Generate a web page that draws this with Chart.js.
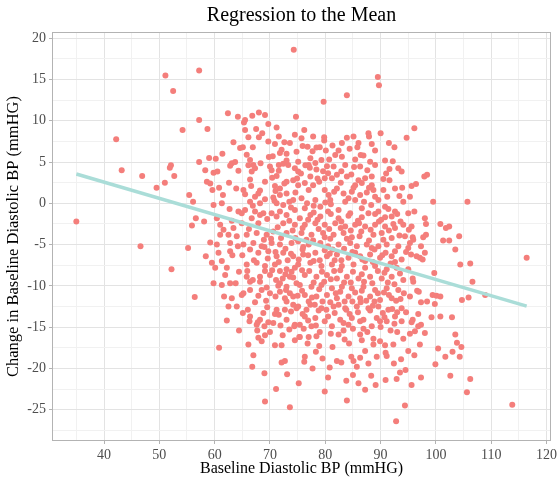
<!DOCTYPE html>
<html>
<head>
<meta charset="utf-8">
<title>Regression to the Mean</title>
<script src="https://cdn.jsdelivr.net/npm/chart.js@4.4.0/dist/chart.umd.min.js"></script>
<style>
    html, body { margin: 0; padding: 0; background: #ffffff; }
    #wrap { width: 557px; height: 487px; }
</style>
</head>
<body>
<div id="wrap"><canvas id="chart" width="557" height="487"></canvas></div>
<script>
// Axis breaks (major ones carry labels, minor ones only a light grid line)
const xMajor = [40, 50, 60, 70, 80, 90, 100, 110, 120];
const xMinor = [35, 45, 55, 65, 75, 85, 95, 105, 115];
const yMajor = [-25, -20, -15, -10, -5, 0, 5, 10, 15, 20];
const yMinor = [-27.5, -22.5, -17.5, -12.5, -7.5, -2.5, 2.5, 7.5, 12.5, 17.5];

// Fitted regression line (ends of the fit)
const fitBaseline = [35, 116.4];
const fitChange = [3.55, -12.45];

// Patients: [baseline diastolic BP, change in diastolic BP]
const bpPairs = [
    [35,-2.2],[42.2,7.75],[43.2,4.0],[46.9,3.3],[46.6,-5.2],[49.5,1.9],[51.0,2.5],[51.1,15.5],[52.5,13.6],
    [52.1,4.6],[51.9,4.3],[52.7,3.3],[52.2,-8.0],[54.2,8.9],[57.2,16.1],[57.2,10.1],[74.3,18.6],
    [62.4,10.9],[64.2,10.5],[65.5,10.1],[65.3,9.8],[66.8,10.6],[68.0,11.0],[69.1,10.7],[74.7,10.5],[58.7,9.0],
    [65.5,8.9],[67.5,9.0],[69.7,9.6],[71.2,9.2],[68.6,8.5],[66.1,8.0],[71.6,8.1],[69.7,7.5],[70.9,7.2],
    [72.6,7.4],[73.6,7.3],[74.8,6.25],[65.1,6.8],[64.6,6.7],[72.1,6.5],[71.8,6.1],[73.0,6.0],[61.4,6.0],
    [59.0,5.5],[60.2,5.4],[65.8,5.9],[66.4,5.25],[68.3,4.85],[67.0,4.65],[57.2,5.0],[63.1,4.85],[63.7,5.0],
    [62.8,4.55],[66.1,4.6],[67.3,4.25],[70.0,4.45],[70.3,4.0],[71.6,4.65],[73.3,4.65],[74.5,4.25],[58.3,4.0],
    [59.8,3.7],[60.5,3.85],[64.3,3.95],[66.7,3.85],[71.6,3.95],[75.1,3.85],[66.4,2.9],[71.2,3.3],[69.1,2.6],
    [58.6,2.6],[59.2,2.4],[73.0,2.6],[74.2,2.8],[70.9,2.1],[71.8,1.8],[59.6,1.6],[60.8,1.9],[65.2,1.6],
    [66.6,2.1],[68.2,1.55],[55.4,1.0],[61.5,1.0],[65.5,1.1],[67.3,0.8],[69.1,0.5],[70.6,0.7],[71.8,1.0],
    [73.0,1.2],[56.1,0.2],[59.8,-0.2],[61.3,0.0],[66.4,0.2],[68.2,0.0],[71.2,0.0],[72.4,-0.2],[74.2,0.4],
    [62.7,-0.7],[64.3,-1.0],[65.5,-0.8],[67.3,-1.0],[68.8,-1.2],[70.3,-1.2],[71.8,-1.0],[73.0,-1.4],[74.5,-0.8],
    [56.6,-1.8],[60.4,-1.8],
    [55.9,-2.7],[58.1,-2.2],[55.2,-5.4],[61.0,-2.6],[61.6,-3.2],[63.4,-3.0],[64.9,-2.4],[64.9,-1.2],[66.7,-1.8],
    [68.2,-1.4],[67.9,-2.4],[71.2,-1.6],[72.4,-2.4],[74.5,-2.6],[61.0,-3.8],[62.5,-3.8],[64.0,-4.0],[65.8,-3.8],
    [67.6,-3.6],[69.4,-3.8],[70.6,-3.4],[73.0,-3.6],[59.2,-4.75],[60.4,-5.0],[62.8,-4.8],[65.2,-5.0],[67.0,-4.8],
    [68.5,-5.2],[70.3,-4.8],[71.8,-5.0],[73.9,-4.8],[75.1,-4.6],[62.8,-5.8],[60.7,-6.0],[58.4,-6.4],[66.4,-5.6],
    [67.9,-6.0],[69.7,-5.8],[71.2,-6.4],[72.4,-6.0],[74.2,-6.4],[59.5,-7.2],[61.3,-7.0],[60.1,-7.8],[62.2,-7.8],
    [65.8,-7.4],[67.6,-7.2],[69.1,-7.6],[70.9,-7.4],[71.8,-8.2],[73.0,-8.0],[74.5,-7.8],[61.9,-8.7],[65.8,-8.9],
    [68.2,-8.9],[70.0,-8.7],[73.6,-8.9],[59.8,-9.7],[61.3,-9.9],[62.8,-9.7],[66.4,-9.5],[68.2,-9.5],[71.8,-9.7],
    [73.0,-10.1],[74.8,-9.7],[66.4,-10.5],[68.5,-10.5],[70.0,-10.9],[71.8,-10.7],[73.6,-10.9],[56.4,-11.35],[63.1,-11.5],
    [67.9,-11.2],[72.7,-11.5],[74.2,-11.3],[64.0,-12.5],[62.5,-12.5],[71.2,-12.9],[72.7,-12.9],[74.8,-12.7],[66.4,-13.7],
    [68.2,-14.1],[62.2,-14.2],[70.6,-14.5],[73.0,-14.1],[74.5,-14.7],[67.6,-14.7],
    [66.3,-14.3],[67.8,-14.4],[69.7,-14.4],[74.4,-14.9],[67.7,-15.4],[69.1,-16.0],[70.0,-15.6],[67.9,-16.3],[68.5,-16.7],
    [72.3,-16.0],[73.5,-15.3],[74.5,-16.6],[75.3,-16.2],[60.8,-17.5],[66.1,-17.1],[72.1,-17.2],[67.0,-18.4],[66.8,-19.8],
    [72.1,-19.3],[72.7,-19.1],[73.1,-20.7],[69.1,-24.0],[73.6,-24.7],
    [79.7,12.3],[76.2,8.9],[77.8,8.1],[79.8,8.0],[79.8,7.6],[83.9,7.95],[85.1,8.1],[86.0,7.3],[87.8,8.5],
    [87.9,8.1],[90.0,8.5],[94.7,7.95],[83.0,7.3],[75.7,7.9],[74.5,8.3],[75.9,6.95],[76.8,6.85],[78.4,6.75],
    [81.8,5.85],[80.7,5.3],[83.0,5.65],[86.4,5.85],[88.1,5.05],[77.3,5.45],[75.1,5.05],[79.3,5.25],[85.4,5.3],
    [78.2,4.9],[77.0,4.65],[75.6,3.6],[78.4,4.1],[80.3,4.5],[81.5,4.45],[83.6,4.65],[86.3,4.45],[89.0,4.65],
    [91.6,4.15],[93.2,4.25],[93.8,3.85],[80.5,3.65],[79.9,3.05],[82.1,3.45],[81.2,3.05],[83.9,3.25],[87.2,3.05],
    [88.4,3.25],[90.5,2.95],[77.3,3.25],[76.3,2.45],[77.8,2.2],[75.1,2.2],[85.4,2.2],[86.6,2.45],[88.4,2.2],
    [92.6,1.8],[95.6,2.1],[90.5,1.6],[77.0,1.6],[79.9,1.6],[81.6,1.4],[83.3,1.2],[84.8,1.4],[86.3,1.0],
    [87.5,1.3],[89.0,0.8],[75.7,0.6],[78.2,0.4],[80.9,0.4],[83.6,0.2],[85.4,0.4],[94.1,0.2],[95.3,0.8],
    [90.8,-0.4],[92.6,-1.0],[95.0,-1.2],[76.3,-0.6],[79.1,-0.4],[80.5,-1.0],[82.4,-0.8],[84.5,-1.2],[86.6,-0.6],
    [87.8,-1.2],[89.6,-1.0],[77.3,-1.4],[92.0,-1.6],
    [75.4,-1.8],[77.9,-1.1],[79.1,-1.6],[81.0,-1.3],[82.4,-1.8],[84.2,-1.5],[86.6,-1.7],[89.0,-1.3],[90.8,-1.7],
    [93.0,-1.3],[94.1,-2.6],[95.6,-2.8],[76.3,-2.6],[78.2,-2.4],[79.9,-2.6],[81.8,-2.4],[83.6,-2.8],[85.4,-2.6],
    [87.2,-2.8],[89.0,-2.6],[90.8,-2.8],[92.6,-3.0],[75.7,-3.6],[77.5,-3.8],[79.6,-3.6],[81.5,-3.8],[83.3,-3.6],
    [88.7,-3.8],[90.2,-3.6],[92.0,-4.2],[94.4,-4.0],[95.9,-4.4],[76.0,-5.3],[77.0,-5.0],[79.1,-4.8],[80.5,-5.2],
    [82.4,-5.0],[84.5,-4.8],[85.7,-5.2],[87.5,-5.0],[89.6,-5.2],[91.1,-5.0],[93.2,-5.2],[95.0,-5.4],[76.0,-6.2],
    [78.2,-6.0],[80.3,-6.4],[82.1,-6.2],[84.2,-6.6],[86.3,-6.4],[88.1,-6.2],[89.9,-6.6],[92.0,-6.4],[93.8,-6.8],
    [75.1,-7.4],[77.3,-7.2],[79.3,-7.6],[81.2,-7.4],[83.0,-7.6],[85.1,-7.4],[87.2,-7.8],[89.0,-7.6],[91.1,-8.0],
    [92.9,-7.8],[95.0,-8.0],[76.3,-8.7],[78.4,-8.9],[80.3,-8.7],[82.1,-9.1],[83.9,-8.9],[86.0,-9.1],[88.1,-8.9],
    [90.2,-9.1],[92.0,-8.9],[94.1,-9.3],[75.4,-9.9],[77.5,-10.1],[79.3,-9.9],[81.2,-10.3],[83.0,-10.1],[84.8,-10.3],
    [86.9,-10.1],[89.0,-10.5],[91.1,-10.3],[93.2,-10.5],[76.3,-11.1],[78.4,-11.3],[80.3,-11.1],[82.1,-11.5],[84.2,-11.3],
    [86.3,-11.5],[88.1,-11.3],[89.9,-11.7],[92.0,-11.5],[95.3,-11.3],[75.1,-12.5],[77.3,-12.3],[79.3,-12.7],[81.5,-12.5],
    [83.6,-12.7],[85.7,-12.5],[87.8,-12.7],[89.6,-12.5],[91.4,-12.9],[93.8,-12.7],[76.3,-13.7],[78.2,-13.9],[80.5,-13.7],
    [82.7,-14.1],[84.8,-13.9],[86.9,-14.1],[89.3,-13.9],[91.1,-14.3],[92.6,-13.7],[75.4,-14.7],[77.5,-14.9],[81.2,-14.9],
    [84.2,-14.7],[88.4,-14.9],
    [76.9,-14.2],[78.3,-14.8],[79.9,-14.3],[83.3,-14.5],[86.3,-14.3],[89.9,-14.3],[92.5,-14.6],[93.8,-14.3],[95.6,-14.4],
    [75.4,-16.2],[77.0,-16.2],[82.4,-15.9],[83.3,-15.4],[83.5,-16.5],[86.3,-15.9],[86.9,-15.2],[86.6,-16.6],[88.7,-16.4],
    [88.7,-17.1],[89.9,-16.7],[90.8,-17.2],[91.8,-15.4],[90.9,-18.1],[94.1,-16.4],[95.3,-15.8],[96.2,-15.5],[78.9,-17.3],
    [78.3,-18.0],[76.3,-18.6],[76.2,-19.2],[79.5,-18.8],[82.1,-19.1],[82.9,-19.3],[84.7,-18.6],[85.1,-19.1],[86.3,-18.7],
    [85.7,-19.8],[87.8,-19.4],[89.3,-18.6],[91.1,-18.5],[92.4,-19.4],[93.7,-18.9],[94.5,-20.2],[93.5,-20.5],[96.1,-18.4],
    [92.9,-21.3],[90.9,-21.4],[88.3,-20.9],[85.0,-20.8],[86.0,-21.8],[89.1,-22.0],[80.5,-21.1],[79.9,-22.8],[83.9,-23.9],
    [94.4,-24.5],[92.8,-26.4],[95.6,-22.0],
    [96.1,9.1],[97.9,3.25],[98.4,3.45],[96.4,2.35],[99.5,0.2],[105.7,0.2],[96.1,-1.0],[98.0,-1.8],
    [98.2,-2.5],[100.8,-2.5],[101.8,-3.0],[102.4,-2.8],[104.2,-4.0],[101.3,-4.5],[102.4,-4.5],[95.8,-4.1],[97.7,-4.1],
    [98.2,-3.8],[95.3,-4.8],[97.3,-5.2],[103.5,-5.6],[98.0,-6.0],[96.5,-6.4],[97.1,-6.6],[97.6,-6.8],[95.5,-6.2],
    [116.4,-6.6],[104.4,-7.4],[106.2,-7.3],[99.7,-8.45],[95.8,-9.1],[95.9,-9.5],[106.6,-9.5],[96.6,-10.6],[96.9,-10.7],
    [99.4,-11.1],[100.1,-11.2],[100.8,-11.3],[108.9,-11.1],[105.9,-11.4],[104.7,-11.7],[97.3,-12.0],[98.4,-11.9],[99.8,-12.2],
    [96.8,-13.4],[99.2,-13.8],[100.8,-13.7],[102.9,-13.8],[95.8,-14.1],[97.3,-14.7],[96.8,-14.9],
    [103.8,-16.9],[103.0,-18.0],[104.3,-18.6],[106.2,-21.3],[105.6,-22.9],[113.8,-24.4],[102.6,-20.9],[99.9,-19.5],[97.3,-21.1],
    [100.4,-17.6],[98.0,-15.7],[97.1,-17.1],[101.7,-18.6],[104.6,-17.4],[103.5,-15.9],
    [83.9,13.1],[89.5,15.3],[89.7,14.3],
    [66.9,-0.3],[69.5,-1.9],[73.8,-0.5],[76.9,-2.0],[81.0,-0.1],[85.9,-2.1],[88.3,-0.2],[91.4,-0.7],[93.6,-2.2],[70.8,0.3],
    [66.2,-3.1],[68.9,-4.4],[72.0,-4.2],[74.1,-3.3],[76.6,-4.4],[78.8,-3.1],[80.9,-4.3],[82.8,-3.0],[84.8,-4.1],[86.5,-3.4],
    [87.9,-4.5],[89.7,-2.2],[91.5,-3.3],[93.4,-3.9],[95.1,-3.2],
    [65.0,-6.3],[67.1,-6.9],[69.0,-5.3],[71.0,-5.9],[73.2,-6.9],[75.9,-5.6],[77.9,-7.0],[79.9,-5.7],[81.7,-6.9],[83.4,-5.5],
    [85.4,-6.0],[87.2,-7.0],[88.9,-5.6],[90.9,-6.0],[92.6,-7.1],[94.6,-5.9],
    [64.4,-8.3],[66.9,-9.3],[69.1,-8.2],[71.1,-9.3],[72.8,-8.6],[74.2,-9.0],[77.1,-8.2],[79.8,-9.5],[81.6,-8.2],[83.4,-9.6],
    [85.0,-8.3],[87.0,-9.5],[89.5,-8.2],[91.3,-9.6],[93.5,-8.5],
    [65.2,-10.9],[67.3,-12.0],[69.3,-11.8],[71.0,-11.3],[72.9,-10.5],[75.0,-11.2],[77.0,-11.9],[78.9,-10.4],[80.9,-12.0],[82.7,-10.7],
    [84.9,-11.9],[86.6,-10.6],[88.9,-11.9],[90.6,-10.8],[92.8,-11.8],[94.2,-10.9],
    [66.0,-12.9],[68.8,-13.3],[70.9,-13.4],[73.8,-13.1],[75.9,-13.4],[78.8,-13.0],[81.7,-13.3],[83.8,-12.9],[85.9,-13.2],[88.1,-13.0],
    [90.4,-13.3],[92.1,-12.8],[94.6,-13.2],
    [67.9,1.2],[72.6,2.4],[74.6,1.3],[76.7,0.0],[78.9,2.6],[80.6,1.0],[82.8,2.5],[84.2,0.6],[86.0,2.8],[87.9,1.9],
    [89.6,0.4],[91.6,2.8],[93.4,0.9],
    [76.4,4.6],[79.0,6.8],[81.3,7.0],[84.4,6.6],[86.9,5.8],[89.0,6.4],[90.8,5.2],[92.5,6.8],[84.7,3.5],[78.6,3.0],
    [66.9,6.8],[69.8,5.6],[63.4,7.4],[68.0,8.0],
    [71.4,-2.9],[73.5,-2.1],[75.9,-3.0],[78.6,-2.0],[80.7,-3.1],[82.9,-2.2],[84.6,-3.3],[86.1,-2.4],[88.2,-3.2],[90.1,-2.0],[92.3,-2.5],
    [70.2,-4.3],[72.8,-5.5],[74.6,-4.2],[77.8,-4.5],[79.9,-4.1],[81.3,-5.6],[83.9,-4.3],[86.2,-4.0],[88.4,-5.4],[90.5,-4.4],[92.6,-5.8],
    [69.6,-6.7],[71.6,-7.1],[73.8,-6.1],[75.2,-6.8],[76.9,-6.3],[79.0,-6.9],[80.8,-6.1],[82.9,-6.9],[84.9,-5.9],[86.7,-6.8],
    [88.6,-7.1],[90.3,-6.3],[91.8,-7.3],
    [70.4,-8.1],[72.3,-9.1],[73.9,-8.3],[75.8,-8.1],[77.9,-9.6],[79.4,-8.3],[81.0,-9.2],[82.7,-8.1],[84.6,-9.6],[86.6,-8.6],
    [88.5,-9.7],[90.7,-8.4],[92.5,-9.8],
    [69.4,-10.2],[71.5,-10.0],[73.0,-11.9],[75.8,-10.6],[77.6,-11.4],[79.5,-11.9],[81.9,-10.9],[83.5,-11.9],[85.4,-10.8],[87.4,-11.8],
    [89.5,-10.9],[91.5,-11.1],[93.6,-11.6],
    [69.5,-12.6],[71.6,-13.5],[74.2,-12.3],[76.6,-12.9],[78.1,-12.3],[80.2,-12.9],[82.4,-12.3],[84.4,-13.4],[86.4,-12.0],[88.6,-12.4],
    [90.7,-13.8],[93.0,-13.2],
    [69.0,-14.9],[71.9,-14.8],[76.1,-15.2],[79.0,-15.6],[81.0,-15.8],[85.0,-15.2],[87.6,-15.6],[90.0,-15.0],[93.0,-15.6],
    [71.0,1.5],[73.5,0.2],[77.9,-0.3],[80.0,0.1],[82.1,1.8],[85.1,1.9],[87.0,0.2],[88.7,1.6],[91.2,0.8],[93.9,1.9],
    [70.4,3.1],[72.4,4.8],[74.9,3.0],[77.2,4.3],[79.6,3.9],[82.9,3.9],[85.2,4.4],[87.6,4.0],[91.0,3.6],[92.2,5.1],
    [70.5,5.7],[73.0,5.2],[77.7,6.3],[80.1,6.4],[82.4,6.4],[85.8,6.8],[88.4,7.2],[91.5,7.3],
    [63.2,-6.3],[64.2,-5.2],[63.8,-9.7],[64.9,-11.1],[65.9,-8.2],[63.1,-2.1],[62.6,2.5],[63.9,1.8],[61.7,-11.3],[65.1,-13.3],
    [64.4,-15.4],[70.9,-17.2],[76.8,-17.0],[81.3,-17.4],[84.3,-17.0],[87.2,-17.9],[92.3,-17.1],[95.0,-17.9],[78.4,-16.1],[80.8,-19.9],
    [83.8,-21.5],[87.2,-22.6],[69.0,-20.6],[71.1,-22.5],[75.2,-21.8],[77.7,-20.0]
];

const SERIF = '"Liberation Serif", "DejaVu Serif", serif';
const PANEL_GREY = '#B3B3B3';

// ggplot-like panel border on all four sides
const panelBorder = {
    id: 'panelBorder',
    afterDraw(chart) {
        const {ctx, chartArea: a} = chart;
        ctx.save();
        ctx.strokeStyle = PANEL_GREY;
        ctx.lineWidth = 1;
        ctx.strokeRect(Math.round(a.left) + 0.5, Math.round(a.top) + 0.5,
            Math.round(a.right - a.left) - 1, Math.round(a.bottom - a.top) - 1);
        ctx.restore();
    }
};

function breakTicks(major, minor) {
    return major.concat(minor).sort((a, b) => a - b).map(v => ({value: v}));
}

function axisOptions(major, minor, min, max, titleText, titlePadding) {
    return {
        type: 'linear',
        min: min,
        max: max,
        afterBuildTicks: (scale) => { scale.ticks = breakTicks(major, minor); },
        ticks: {
            autoSkip: false,
            maxRotation: 0,
            padding: 3,
            color: '#4D4D4D',
            font: {family: SERIF, size: 14},
            callback: (v) => major.includes(v) ? String(v) : ''
        },
        grid: {
            color: (c) => major.includes(c.tick.value) ? '#E3E3E3' : '#F1F1F1',
            lineWidth: 1,
            tickLength: 3,
            tickColor: (c) => major.includes(c.tick.value) ? PANEL_GREY : 'rgba(0,0,0,0)'
        },
        border: {display: false},
        title: {
            display: true,
            text: titleText,
            color: '#000000',
            font: {family: SERIF, size: 16},
            padding: titlePadding
        }
    };
}

const xAxis = axisOptions(xMajor, xMinor, 30.6, 120.8, 'Baseline Diastolic BP (mmHG)', {top: 0, bottom: 9});
xAxis.afterFit = (s) => { s.height = 46; s.paddingLeft = 0; s.paddingRight = 0; };

const yAxis = axisOptions(yMajor, yMinor, -28.8, 20.76, 'Change in Baseline Diastolic BP (mmHG)', {top: 4, bottom: 0});
yAxis.title.font = {family: SERIF, size: 16.5};
yAxis.afterFit = (s) => { s.width = 52; s.paddingTop = 0; s.paddingBottom = 0; };

new Chart(document.getElementById('chart'), {
    type: 'scatter',
    data: {
        datasets: [
            {
                type: 'line',
                label: 'fit',
                data: fitBaseline.map((x, i) => ({x: x, y: fitChange[i]})),
                borderColor: '#AADDD8',
                borderWidth: 3.5,
                pointRadius: 0,
                fill: false,
                order: 0
            },
            {
                label: 'patients',
                data: bpPairs.map(p => ({x: p[0], y: p[1]})),
                backgroundColor: '#F47E7B',
                borderWidth: 0,
                pointRadius: 3,
                order: 1
            }
        ]
    },
    options: {
        responsive: false,
        devicePixelRatio: 1,
        animation: false,
        layout: {padding: {left: 0, right: 6, top: 0, bottom: 0}},
        scales: {x: xAxis, y: yAxis},
        plugins: {
            legend: {display: false},
            tooltip: {enabled: false},
            title: {
                display: true,
                text: 'Regression to the Mean',
                color: '#000000',
                fullSize: false,
                font: {family: SERIF, size: 20, weight: 'normal'},
                padding: {top: 3.5, bottom: 4.5}
            }
        }
    },
    plugins: [panelBorder]
});
</script>
</body>
</html>
